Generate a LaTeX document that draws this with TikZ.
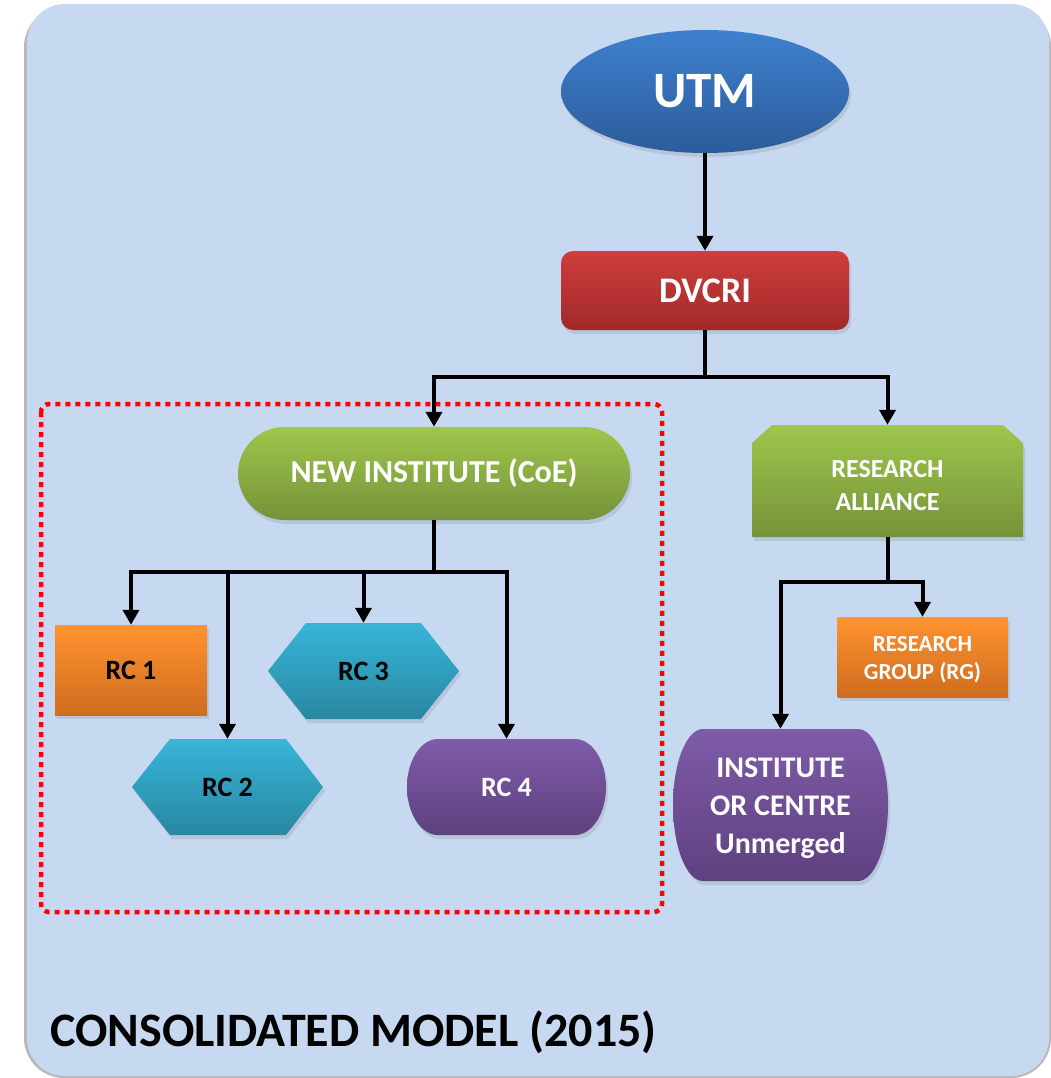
\documentclass[tikz,border=0pt]{standalone}
\usepackage{fontspec}
\setmainfont{Carlito}
\usetikzlibrary{arrows.meta,shapes.geometric,shapes.misc,shadows}
\definecolor{bgblue}{HTML}{C6D9F1}
\definecolor{utmtop}{HTML}{3E80CE}
\definecolor{utmbot}{HTML}{2C5C9A}
\definecolor{redtop}{HTML}{CE3E3C}
\definecolor{redbot}{HTML}{A02A29}
\definecolor{grntop}{HTML}{9FC74B}
\definecolor{grnbot}{HTML}{75923A}
\definecolor{orgtop}{HTML}{FF932F}
\definecolor{orgbot}{HTML}{D06C1F}
\definecolor{tealtop}{HTML}{37B5D8}
\definecolor{tealbot}{HTML}{2987A1}
\definecolor{purtop}{HTML}{7F5BA8}
\definecolor{purbot}{HTML}{5E4180}
\begin{document}
\begin{tikzpicture}[x=1pt,y=-1pt,
  shad/.style={drop shadow={opacity=0.22,shadow xshift=2pt,shadow yshift=-4pt}},
  lbl/.style={text=white,align=center,inner sep=0pt},
  dlbl/.style={text=black,align=center,inner sep=0pt},
  fsz/.style n args={2}{font=\bfseries\fontsize{#1}{#2}\selectfont},
  bluegrad/.style={top color=utmtop,bottom color=utmbot},
  redgrad/.style={top color=redtop,bottom color=redbot},
  grngrad/.style={top color=grntop,bottom color=grnbot},
  orggrad/.style={top color=orgtop,bottom color=orgbot},
  tealgrad/.style={top color=tealtop,bottom color=tealbot},
  purgrad/.style={top color=purtop,bottom color=purbot},
  plain/.style={line width=4pt,line join=miter},
  conn/.style={plain,-{Triangle[length=15pt,width=16pt]}}
]
\useasboundingbox (0,0) rectangle (1051,1078);
% background panel
\fill[gray!55,rounded corners=40pt] (24,7) rectangle (1051,1078);
\fill[bgblue,rounded corners=38pt] (27,4) rectangle (1049,1076);

% red dotted frame
\draw[red,line width=4.5pt,dash pattern=on 5pt off 5pt,rounded corners=8pt] (41,404) rectangle (662,912);

% top nodes
\node[ellipse,bluegrad,shad,lbl,fsz={51}{60},minimum width=288pt,minimum height=123pt] (utm) at (705,91.5) {UTM};
\node[rectangle,rounded corners=12pt,redgrad,shad,lbl,fsz={36}{43},minimum width=288pt,minimum height=79pt] (dvcri) at (705,290.5) {DVCRI};

% NEW INSTITUTE
\node[rounded rectangle,grngrad,shad,lbl,fsz={32}{38},minimum width=392pt,minimum height=93pt] (ni) at (434,473.5) {NEW INSTITUTE (CoE)};

% RESEARCH ALLIANCE (snipped top corners)
\shade[grngrad,shad] (752,443) -- (772,425) -- (1003,425) -- (1023,443) -- (1023,537) -- (752,537) -- cycle;
\node[lbl,fsz={26}{33},minimum width=271pt,minimum height=112pt] (ra) at (887.5,481) {\rule{0pt}{27pt}RESEARCH\\ALLIANCE};

% RC 1
\node[rectangle,orggrad,shad,dlbl,fsz={28}{34},minimum width=152pt,minimum height=90pt] (rc1) at (131,670) {RC 1};

% RC 3 hexagon
\shade[tealgrad,shad] (268,671) -- (306,623) -- (421,623) -- (459,671) -- (421,719) -- (306,719) -- cycle;
\node[dlbl,fsz={28}{34},minimum width=191pt,minimum height=96pt] (rc3) at (363.5,671) {RC 3};

% RC 2 hexagon
\shade[tealgrad,shad] (132,787) -- (170,739) -- (286,739) -- (323,787) -- (286,835) -- (170,835) -- cycle;
\node[dlbl,fsz={28}{34},minimum width=191pt,minimum height=96pt] (rc2) at (227.5,787) {RC 2};

% RC 4
\shade[purgrad,shad] (438,739) -- (575,739) arc[start angle=90,end angle=-90,x radius=31pt,y radius=48pt] -- (438,835) arc[start angle=270,end angle=90,x radius=31pt,y radius=48pt] -- cycle;
\node[lbl,fsz={28}{34},minimum width=199pt,minimum height=96pt] (rc4) at (506.5,787) {RC 4};

% RESEARCH GROUP
\node[rectangle,orggrad,shad,lbl,fsz={23}{28},minimum width=170pt,minimum height=80pt] (rg) at (922.5,657) {\rule{0pt}{21pt}RESEARCH\\GROUP (RG)};

% INSTITUTE OR CENTRE
\shade[purgrad,shad] (703,729) -- (858,729) arc[start angle=90,end angle=-90,x radius=30pt,y radius=76pt] -- (703,881) arc[start angle=270,end angle=90,x radius=30pt,y radius=76pt] -- cycle;
\node[lbl,fsz={30}{38},minimum width=215pt,minimum height=152pt] (inst) at (780.5,805) {\rule{0pt}{26.5pt}INSTITUTE\\OR CENTRE\\Unmerged};

% title
\node[anchor=base west,inner sep=0pt,fsz={48}{58}] (title) at (50,1046) {CONSOLIDATED MODEL (2015)};

% connectors
\draw[conn] (utm) -- (dvcri);
\coordinate (j1) at (705,377);
\draw[plain] (dvcri.south) -- (j1);
\draw[conn] (j1) -| (ni.north);
\draw[conn] (j1) -| (ra.north);

\coordinate (j2) at (434,572);
\draw[plain] (ni.south) -- (j2);
\draw[conn] (j2) -| (rc1.north);
\draw[conn] (j2) -| (rc2.north);
\draw[conn] (j2) -| (rc3.north);
\draw[conn] (j2) -| (rc4.north);

\coordinate (j3) at (887.5,582);
\draw[plain] (ra.south) -- (j3);
\draw[conn] (j3) -| (rg.north);
\draw[conn] (j3) -| (inst.north);
\end{tikzpicture}
\end{document}
